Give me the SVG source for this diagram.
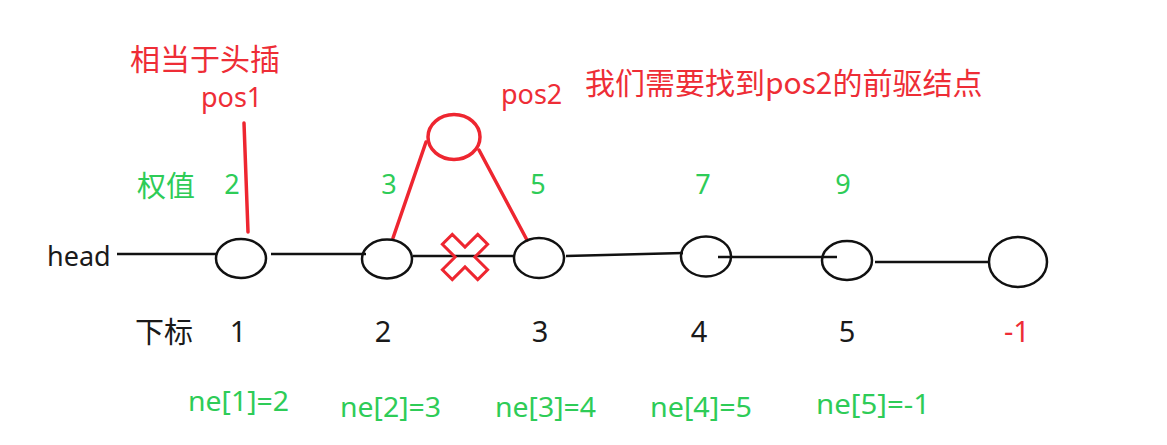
<svg xmlns="http://www.w3.org/2000/svg" width="1167" height="445" viewBox="0 0 1167 445">
  <style>
    text { font-family: "Noto Sans", "Noto Sans CJK SC", sans-serif; }
    .cjk { font-family: "Noto Sans CJK SC", "Noto Sans", sans-serif; }
    .red { fill: #ee2d36; }
    .green { fill: #2ecc57; }
    .black { fill: #1a1a1a; }
    .node { fill: none; stroke: #111; stroke-width: 2.5; }
    .link { stroke: #111; stroke-width: 2.5; fill: none; }
    .rlink { stroke: #ee2630; stroke-width: 3.5; fill: none; stroke-linecap: round; }
    .num { font-size: 27px; text-anchor: middle; }
    .idx { font-size: 29px; text-anchor: middle; }
    .ne { font-size: 27px; }
  </style>
  <rect width="1167" height="445" fill="#ffffff"/>

  <g id="connectors">
    <line class="link" x1="117" y1="254" x2="216" y2="254"/>
    <line class="link" x1="271" y1="254" x2="366" y2="254"/>
    <line class="link" x1="413" y1="256" x2="514" y2="256"/>
    <line class="link" x1="566" y1="256" x2="683" y2="253"/>
    <line class="link" x1="718" y1="257" x2="837" y2="257"/>
    <line class="link" x1="875" y1="262" x2="990" y2="262"/>
    <line class="rlink" x1="244" y1="123" x2="248" y2="232"/>
    <line class="rlink" x1="426" y1="142" x2="393" y2="238"/>
    <line class="rlink" x1="479" y1="150" x2="527" y2="240"/>
  </g>

  <g id="node-1"><ellipse class="node" cx="241" cy="258.5" rx="25" ry="19.5"/></g>
  <g id="node-2"><ellipse class="node" cx="387" cy="259" rx="25" ry="19.5"/></g>
  <g id="node-3"><ellipse class="node" cx="539" cy="258" rx="25" ry="20"/></g>
  <g id="node-4"><ellipse class="node" cx="706" cy="256.5" rx="25" ry="20"/></g>
  <g id="node-5"><ellipse class="node" cx="847" cy="260.5" rx="25" ry="19.5"/></g>
  <g id="node-end"><ellipse class="node" cx="1018" cy="262" rx="29" ry="25"/></g>
  <g id="node-new"><ellipse cx="454" cy="137" rx="26" ry="22.5" fill="none" stroke="#ee2630" stroke-width="3.5"/></g>

  <g id="cross">
    <polygon transform="translate(465 257) rotate(45)" fill="none" stroke="#ee2630" stroke-width="3" stroke-linejoin="miter"
      points="-7,-25 7,-25 7,-7 25,-7 25,7 7,7 7,25 -7,25 -7,7 -25,7 -25,-7 -7,-7"/>
  </g>

  <g id="labels">
    <text class="cjk red" x="130" y="70" font-size="30">相当于头插</text>
    <text class="red" x="201" y="107" font-size="27">pos1</text>
    <text class="red" x="501" y="104" font-size="27">pos2</text>
    <text class="cjk red" x="585" y="94" font-size="30">我们需要找到pos2的前驱结点</text>

    <text class="cjk green" x="137" y="197" font-size="29">权值</text>
    <text class="green num" x="232" y="194">2</text>
    <text class="green num" x="389" y="194">3</text>
    <text class="green num" x="538" y="194">5</text>
    <text class="green num" x="703" y="194">7</text>
    <text class="green num" x="843" y="194">9</text>

    <text class="black" x="47" y="266" font-size="27">head</text>

    <text class="cjk black" x="135" y="343" font-size="29">下标</text>
    <text class="black idx" x="238" y="342">1</text>
    <text class="black idx" x="383" y="342">2</text>
    <text class="black idx" x="540" y="342">3</text>
    <text class="black idx" x="699" y="342">4</text>
    <text class="black idx" x="847" y="342">5</text>
    <text class="red idx" x="1017" y="342">-1</text>

    <text class="green ne" x="188" y="411" textLength="101" lengthAdjust="spacingAndGlyphs">ne[1]=2</text>
    <text class="green ne" x="340" y="417" textLength="101" lengthAdjust="spacingAndGlyphs">ne[2]=3</text>
    <text class="green ne" x="495" y="417" textLength="101" lengthAdjust="spacingAndGlyphs">ne[3]=4</text>
    <text class="green ne" x="650" y="417" textLength="102" lengthAdjust="spacingAndGlyphs">ne[4]=5</text>
    <text class="green ne" x="816" y="414" textLength="114" lengthAdjust="spacingAndGlyphs">ne[5]=-1</text>
  </g>
</svg>
